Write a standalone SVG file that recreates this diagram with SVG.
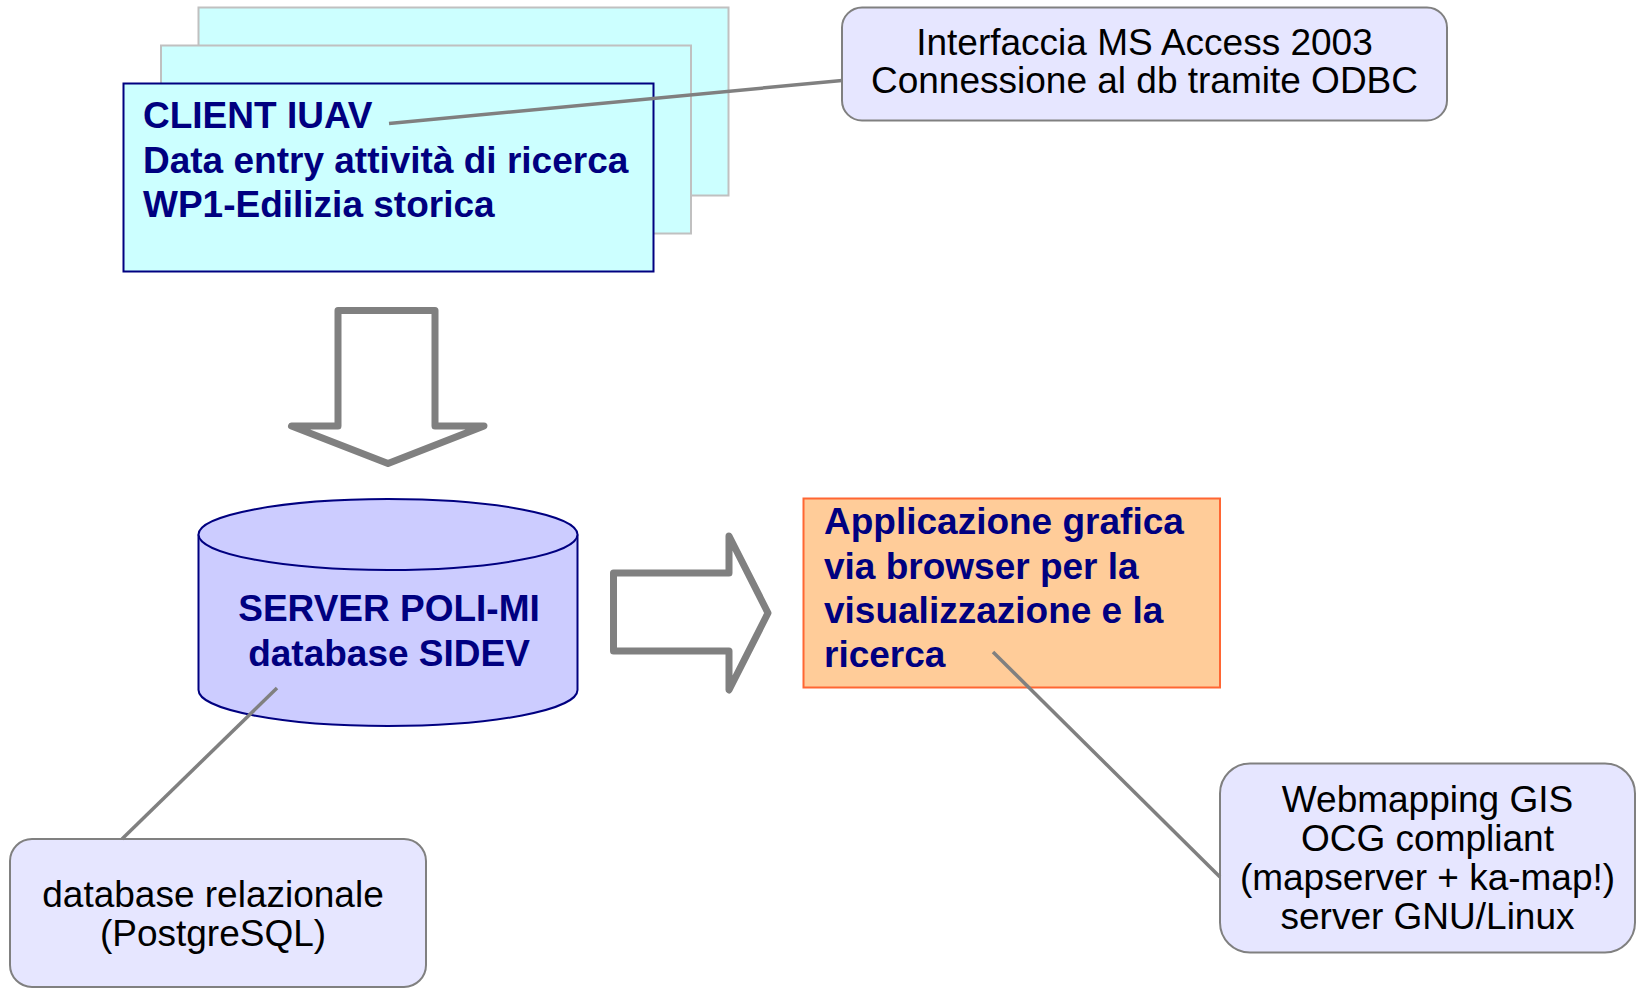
<svg xmlns="http://www.w3.org/2000/svg" width="1638" height="988" viewBox="0 0 1638 988">
<style>
.bold{font-family:"Liberation Sans",Arial,sans-serif;font-weight:bold;font-size:37px;fill:#000080}
.norm{font-family:"Liberation Sans",Arial,sans-serif;font-size:37px;fill:#000000}
.note{fill:#E6E6FF;stroke:#808080;stroke-width:2}
.call{stroke:#808080;stroke-width:3.5;fill:none}
.bigarrow{fill:#FFFFFF;stroke:#808080;stroke-width:7;stroke-linejoin:round}
</style>
<rect width="1638" height="988" fill="#FFFFFF"/>
<g id="client">
<rect x="198.5" y="7.5" width="530" height="188" fill="#CCFFFF" stroke="#C0C0C0" stroke-width="2"/>
<rect x="161" y="45.5" width="530" height="188" fill="#CCFFFF" stroke="#C0C0C0" stroke-width="2"/>
<rect x="123.5" y="83.5" width="530" height="188" fill="#CCFFFF" stroke="#000080" stroke-width="2"/>
<text class="bold" x="143" y="127.5">CLIENT IUAV</text>
<text class="bold" x="143" y="172.5">Data entry attività di ricerca</text>
<text class="bold" x="143" y="217">WP1-Edilizia storica</text>
</g>
<g id="note-access">
<rect class="note" x="842" y="7.5" width="605" height="113" rx="20"/>
<text class="norm" x="1144.5" y="54.5" text-anchor="middle">Interfaccia MS Access 2003</text>
<text class="norm" x="1144.5" y="93" text-anchor="middle">Connessione al db tramite ODBC</text>
</g>
<g id="server">
<path d="M198.5,534.5 L198.5,690 A189.5,36 0 0 0 577.5,690 L577.5,534.5" fill="#CCCCFF" stroke="#000080" stroke-width="2"/>
<ellipse cx="388" cy="534.5" rx="189.5" ry="35.5" fill="#CCCCFF" stroke="#000080" stroke-width="2"/>
<text class="bold" x="389" y="620.5" text-anchor="middle">SERVER POLI-MI</text>
<text class="bold" x="389" y="665.5" text-anchor="middle">database SIDEV</text>
</g>
<g id="app">
<rect x="803.5" y="498.5" width="416.5" height="189" fill="#FFCC99" stroke="#FF6633" stroke-width="2"/>
<text class="bold" x="824" y="534">Applicazione grafica</text>
<text class="bold" x="824" y="578.5">via browser per la</text>
<text class="bold" x="824" y="622.5">visualizzazione e la</text>
<text class="bold" x="824" y="667">ricerca</text>
</g>
<g id="note-db">
<rect class="note" x="10" y="839" width="416" height="148" rx="22"/>
<text class="norm" x="213" y="907" text-anchor="middle">database relazionale</text>
<text class="norm" x="213" y="946" text-anchor="middle">(PostgreSQL)</text>
</g>
<g id="note-gis">
<rect class="note" x="1220" y="763.5" width="415" height="189" rx="30"/>
<text class="norm" x="1427.5" y="811.5" text-anchor="middle">Webmapping GIS</text>
<text class="norm" x="1427.5" y="850.5" text-anchor="middle">OCG compliant</text>
<text class="norm" x="1427.5" y="890" text-anchor="middle">(mapserver + ka-map!)</text>
<text class="norm" x="1427.5" y="928.5" text-anchor="middle">server GNU/Linux</text>
</g>
<g id="connectors">
<path class="bigarrow" d="M338,310.5 L435,310.5 L435,426 L484,426 L388,463.5 L291.5,426 L338,426 Z"/>
<path class="bigarrow" d="M613.5,573 L729,573 L729,536 L768,613 L729,690 L729,651 L613.5,651 Z"/>
<line class="call" x1="389" y1="123.5" x2="842" y2="80.5"/>
<line class="call" x1="277" y1="688" x2="122" y2="839"/>
<line class="call" x1="993" y1="652" x2="1220" y2="877"/>
</g>
</svg>
